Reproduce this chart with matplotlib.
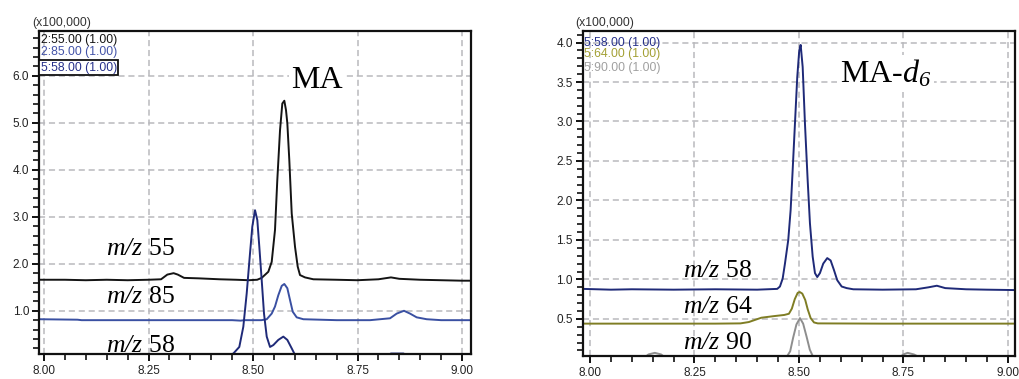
import matplotlib
matplotlib.use("Agg")
import matplotlib.pyplot as plt
from matplotlib.ticker import MultipleLocator, FormatStrFormatter

plt.rcParams['mathtext.fontset'] = 'custom'
plt.rcParams['mathtext.rm'] = 'Liberation Serif:italic'
plt.rcParams['mathtext.it'] = 'Liberation Serif:italic'
plt.rcParams['font.family'] = ['Liberation Sans', 'DejaVu Sans']

# ---------------- data (retention time in min, intensity x100,000) ----------------
# Left panel: MA
t_mz55 = [7.988, 8.05, 8.10, 8.15, 8.20, 8.25, 8.28, 8.295, 8.31, 8.32, 8.335, 8.37, 8.42, 8.46, 8.49,
          8.51, 8.5208, 8.5366, 8.5447, 8.5526, 8.5581, 8.5646, 8.5701, 8.5749, 8.5789, 8.5821,
          8.5868, 8.5926, 8.6005, 8.6069, 8.6124, 8.6244, 8.6443, 8.70, 8.75, 8.80, 8.83, 8.85,
          8.90, 8.95, 9.00, 9.022]
i_mz55 = [1.66, 1.66, 1.65, 1.66, 1.65, 1.66, 1.67, 1.77, 1.80, 1.77, 1.70, 1.69, 1.67, 1.66, 1.65,
          1.66, 1.70, 1.83, 2.04, 2.72, 3.78, 4.84, 5.41, 5.47, 5.27, 4.99,
          4.21, 3.07, 2.36, 1.94, 1.76, 1.71, 1.67, 1.66, 1.65, 1.67, 1.71, 1.68,
          1.66, 1.65, 1.64, 1.64]

t_mz85 = [7.988, 8.08, 8.09, 8.30, 8.45, 8.47, 8.48, 8.52, 8.5328, 8.5447, 8.5526, 8.5605, 8.5687,
          8.5749, 8.5821, 8.5885, 8.5950, 8.6045, 8.6203, 8.70, 8.78, 8.8278, 8.8438, 8.8612,
          8.8756, 8.8916, 8.9155, 8.95, 9.022]
i_mz85 = [0.82, 0.81, 0.80, 0.80, 0.80, 0.79, 0.80, 0.80, 0.82, 0.94, 1.09, 1.33, 1.53,
          1.57, 1.48, 1.23, 0.98, 0.86, 0.82, 0.80, 0.80, 0.84, 0.94, 1.00,
          0.94, 0.86, 0.82, 0.80, 0.80]

t_mz58a = [7.988, 8.10, 8.30, 8.44, 8.4529, 8.4672, 8.4768, 8.4849, 8.4928, 8.4983, 8.5048, 8.5103,
           8.5151, 8.5208, 8.5263, 8.5328, 8.5407, 8.5486, 8.5605, 8.5725, 8.5821, 8.5926, 8.6005,
           8.62, 8.82, 8.83, 8.86, 8.87, 9.022]
i_mz58a = [0.04, 0.04, 0.04, 0.04, 0.09, 0.23, 0.66, 1.37, 2.22, 2.79, 3.14, 2.93,
           2.36, 1.65, 0.94, 0.45, 0.23, 0.27, 0.38, 0.45, 0.38, 0.20, 0.06,
           0.04, 0.04, 0.09, 0.09, 0.04, 0.04]

# Right panel: MA-d6
t_mz58b = [7.9825, 8.05, 8.10, 8.20, 8.30, 8.40, 8.448, 8.4545, 8.4610, 8.4665, 8.4744, 8.4801,
           8.4849, 8.4904, 8.4959, 8.5007, 8.5041, 8.5089, 8.5144, 8.5208, 8.5263, 8.5328, 8.5383,
           8.5438, 8.5502, 8.5581, 8.5677, 8.5758, 8.5837, 8.5916, 8.6022, 8.6141, 8.63, 8.70,
           8.78, 8.81, 8.83, 8.85, 8.90, 8.95, 9.017]
i_mz58b = [0.88, 0.87, 0.875, 0.87, 0.875, 0.87, 0.88, 0.91, 1.01, 1.20, 1.50, 1.88,
           2.38, 2.97, 3.56, 3.90, 3.97, 3.69, 2.97, 2.26, 1.71, 1.29, 1.08,
           1.03, 1.08, 1.20, 1.27, 1.24, 1.12, 0.99, 0.91, 0.89, 0.875, 0.87,
           0.875, 0.90, 0.92, 0.89, 0.875, 0.87, 0.865]

t_mz64 = [7.9825, 8.10, 8.20, 8.30, 8.36, 8.38, 8.41, 8.44, 8.465, 8.476, 8.483, 8.490, 8.497,
          8.502, 8.508, 8.515, 8.521, 8.528, 8.536, 8.545, 8.70, 8.90, 9.017]
i_mz64 = [0.44, 0.44, 0.44, 0.44, 0.443, 0.46, 0.515, 0.535, 0.55, 0.565, 0.63, 0.75, 0.83,
          0.84, 0.82, 0.74, 0.62, 0.51, 0.455, 0.443, 0.44, 0.44, 0.44]

t_mz90 = [7.9825, 8.13, 8.14, 8.155, 8.17, 8.18, 8.465, 8.472, 8.479, 8.486, 8.494, 8.5024, 8.510,
          8.518, 8.526, 8.533, 8.55, 8.74, 8.75, 8.76, 8.775, 8.79, 9.017]
i_mz90 = [0.01, 0.01, 0.05, 0.07, 0.05, 0.01, 0.01, 0.03, 0.09, 0.26, 0.43, 0.51, 0.44,
          0.28, 0.11, 0.03, 0.01, 0.01, 0.05, 0.07, 0.05, 0.01, 0.01]

left_channels = ["2:55.00 (1.00)", "2:85.00 (1.00)", "5:58.00 (1.00)"]
right_channels = ["5:58.00 (1.00)", "5:64.00 (1.00)", "5:90.00 (1.00)"]
scale_label = "(x100,000)"
x_ticks = [8.00, 8.25, 8.50, 8.75, 9.00]
left_yticks = [1.0, 2.0, 3.0, 4.0, 5.0, 6.0]
right_yticks = [0.5, 1.0, 1.5, 2.0, 2.5, 3.0, 3.5, 4.0]

# ---------------- styling ----------------
C_BLACK = '#141414'
C_BLUE = '#3a50a2'
C_NAVY = '#1f2a78'
C_OLIVE = '#7f7d24'
C_GRAY = '#8e8e8e'
LEG_BLUE = '#4353a8'
LEG_NAVY = '#26308a'
LEG_OLIVE = '#a3a034'
LEG_GRAY = '#a0a0a0'
GRID = '#b9b9bd'

W, H = 1019, 379
fig = plt.figure(figsize=(W / 100, H / 100), dpi=100)

def fx(px):
    return px / W

def fy(py):
    return 1 - py / H

axL = fig.add_axes([fx(39), fy(354), fx(471) - fx(39), fy(30.7) - fy(354)])
axR = fig.add_axes([fx(582.7), fy(356), fx(1015) - fx(582.7), fy(30.7) - fy(356)])

serif = 'Liberation Serif'

def style(ax, yticks, ymin, ymax, yminor, xmin, xmax):
    ax.set_xlim(xmin, xmax)
    ax.set_ylim(ymin, ymax)
    ax.set_xticks(x_ticks)
    ax.set_yticks(yticks)
    ax.xaxis.set_minor_locator(MultipleLocator(0.05))
    ax.yaxis.set_minor_locator(MultipleLocator(yminor))
    ax.xaxis.set_major_formatter(FormatStrFormatter('%.2f'))
    ax.yaxis.set_major_formatter(FormatStrFormatter('%.1f'))
    ax.tick_params(which='major', direction='out', length=5, width=1.4, labelsize=8.5,
                   color='#111111', labelcolor='#222222', pad=2)
    ax.tick_params(which='minor', direction='out', length=4, width=1.2, color='#111111')
    ax.tick_params(axis='x', which='major', pad=3)
    for s in ax.spines.values():
        s.set_linewidth(1.6)
        s.set_color('#111111')
    ax.grid(True, which='major', color=GRID, linestyle=(0, (4, 2.5)), linewidth=1.1)
    ax.set_axisbelow(True)

style(axL, left_yticks, 0.08, 6.96, 0.2, 7.988, 9.0215)
style(axR, right_yticks, 0.03, 4.15, 0.1, 7.9825, 9.017)

lw = 1.4
axL.plot(t_mz55, i_mz55, color=C_BLACK, lw=lw)
axL.plot(t_mz85, i_mz85, color=C_BLUE, lw=lw)
axL.plot(t_mz58a, i_mz58a, color=C_NAVY, lw=lw)

axR.plot(t_mz58b, i_mz58b, color=C_NAVY, lw=lw)
axR.plot(t_mz64, i_mz64, color=C_OLIVE, lw=lw)
axR.plot(t_mz90, i_mz90, color=C_GRAY, lw=lw)

# m/z labels
fs_lab = 18.5
axL.text(8.148, 2.185, r"$m/z$ 55", family=serif, fontsize=fs_lab, va='baseline', ha='left')
axL.text(8.148, 1.17, r"$m/z$ 85", family=serif, fontsize=fs_lab, va='baseline', ha='left')
axL.text(8.148, 0.128, r"$m/z$ 58", family=serif, fontsize=fs_lab, va='baseline', ha='left')
axR.text(8.2225, 1.033, r"$m/z$ 58", family=serif, fontsize=fs_lab, va='baseline', ha='left')
axR.text(8.2225, 0.57, r"$m/z$ 64", family=serif, fontsize=fs_lab, va='baseline', ha='left')
axR.text(8.2225, 0.114, r"$m/z$ 90", family=serif, fontsize=fs_lab, va='baseline', ha='left')

# compound titles
axL.text(8.654, 5.73, "MA", family=serif, fontsize=23, va='baseline', ha='center',
         bbox=dict(boxstyle='square,pad=0.08', fc='white', ec='none'))
axR.text(8.598, 3.50, r"MA-$d_6$", family=serif, fontsize=23, va='baseline',
         ha='left', bbox=dict(boxstyle='square,pad=0.08', fc='white', ec='none'))

# channel legends
fs_leg = 8.8
axL.text(0.004, 0.972, left_channels[0], transform=axL.transAxes, fontsize=fs_leg,
         color=C_BLACK, va='center', ha='left')
axL.text(0.004, 0.934, left_channels[1], transform=axL.transAxes, fontsize=fs_leg,
         color=LEG_BLUE, va='center', ha='left')
axL.text(0.004, 0.885, left_channels[2], transform=axL.transAxes, fontsize=fs_leg,
         color=LEG_NAVY, va='center', ha='left',
         bbox=dict(boxstyle='square,pad=0.12', fc='white', ec='#111111', lw=1.3))
axR.text(0.004, 0.962, right_channels[0], transform=axR.transAxes, fontsize=fs_leg,
         color=LEG_NAVY, va='center', ha='left')
axR.text(0.004, 0.928, right_channels[1], transform=axR.transAxes, fontsize=fs_leg,
         color=LEG_OLIVE, va='center', ha='left')
axR.text(0.004, 0.886, right_channels[2], transform=axR.transAxes, fontsize=fs_leg,
         color=LEG_GRAY, va='center', ha='left')

fig.text(fx(32), fy(23), scale_label, fontsize=8.8, color='#333333', va='center', ha='left')
fig.text(fx(575), fy(23), scale_label, fontsize=8.8, color='#333333', va='center', ha='left')

fig.savefig("out.png", dpi=100)
